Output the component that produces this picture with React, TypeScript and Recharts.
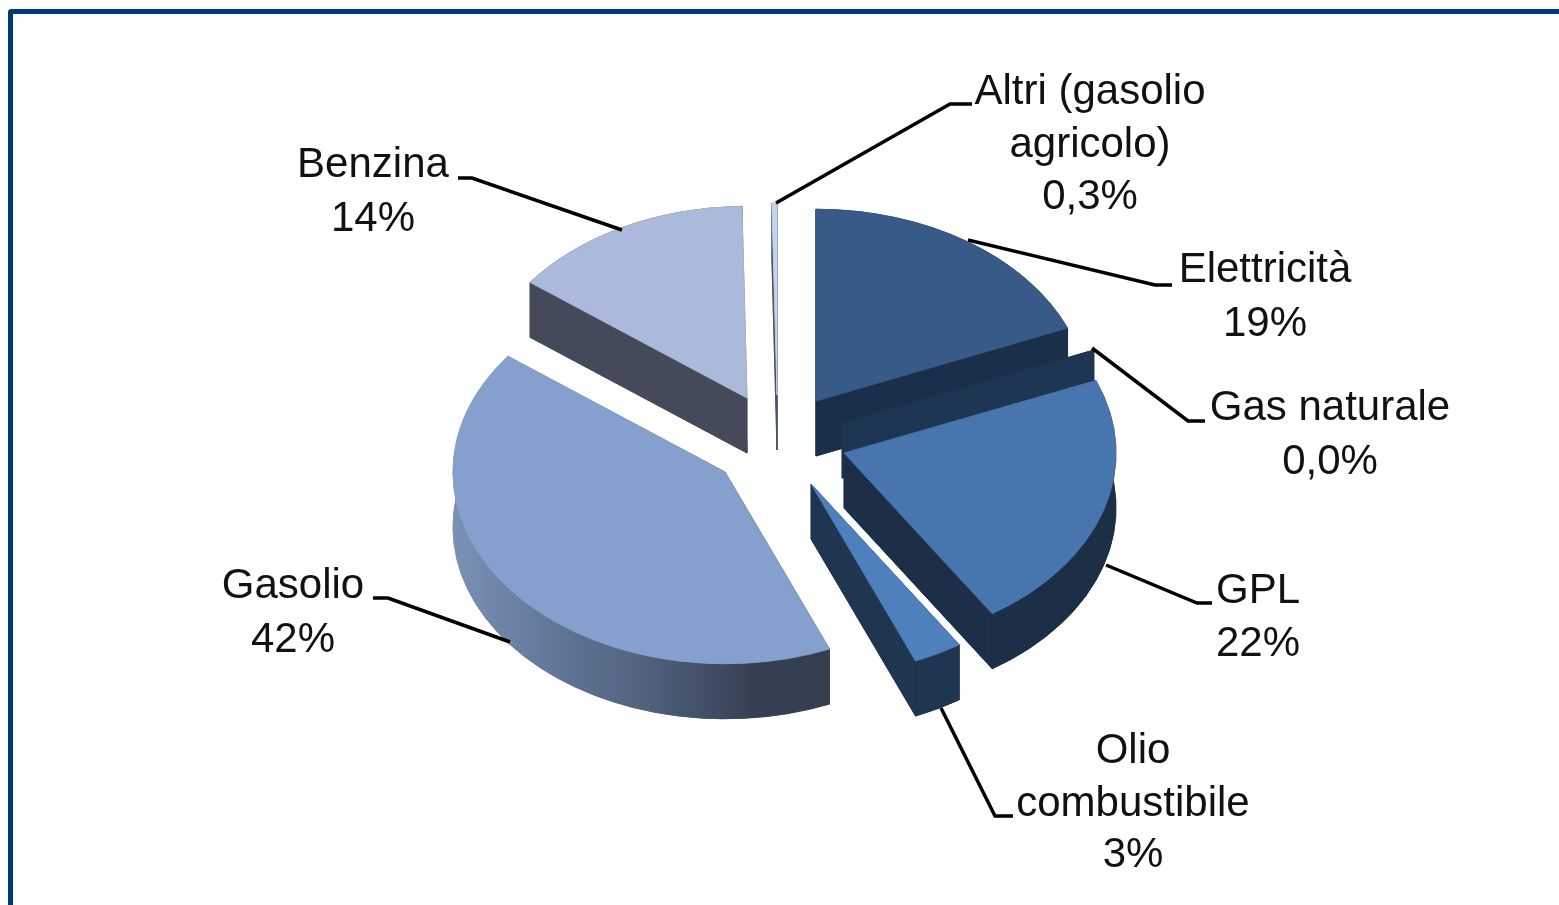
import React from "react";
import { PieChart, Pie } from "recharts";

// ---- chart content ----
const categories = ["Elettricità", "Gas naturale", "GPL", "Olio combustibile", "Gasolio", "Benzina", "Altri (gasolio agricolo)"];
const values = [18.8, 0.04, 22, 2.9, 41.6, 14.4, 0.3];
const labelLines = [
  ["Elettricità", "19%"],
  ["Gas naturale", "0,0%"],
  ["GPL", "22%"],
  ["Olio", "combustibile", "3%"],
  ["Gasolio", "42%"],
  ["Benzina", "14%"],
  ["Altri (gasolio", "agricolo)", "0,3%"],
];

// ---- styles and layout, separate from the values ----
const topColors = ["#375a87", "#1f3554", "#4875ae", "#4d80bd", "#85a0cc", "#abbadb", "#c6d3ec"];
const wallColors = ["#1c2f4a", "#1f3554", "#1c2f47", "#1f3550", "url(#gasolioWall)", "#444a5a", "#4a5060"];
// exploded displacement of every slice from the pie centre
const explode: [number, number][] = [[36, -34], [62, -12], [64, 18], [31, 49], [-55, 37], [-33, -37], [-3, -40]];
// text centre x, baselines, leader-line points
const labelLayout: { x: number; y: number[]; line: number[][] }[] = [
  { x: 1265, y: [282, 336], line: [[968, 240], [1155, 285], [1172, 285]] },
  { x: 1330, y: [420, 474], line: [[1092, 348], [1188, 421], [1205, 421]] },
  { x: 1258, y: [603, 656], line: [[1106, 565], [1197, 603], [1212, 603]] },
  { x: 1133, y: [763, 816, 867], line: [[941, 708], [995, 816], [1013, 816]] },
  { x: 293, y: [598, 652], line: [[510, 642], [388, 598], [373, 598]] },
  { x: 373, y: [177, 231], line: [[622, 230], [472, 178], [458, 178]] },
  { x: 1090, y: [104, 157, 209], line: [[776, 203], [950, 104], [972, 104]] },
];
const TILT = 0.705;
const DEPTH = 55;
const WIDTH = 1559;
const HEIGHT = 905;
const GRADIENT_SLICE = 4;

const data = categories.map((name, i) => ({ name, value: values[i] }));

function SliceShape(props: any) {
  const { cx, cy, outerRadius, startAngle, endAngle, index } = props;
  const i: number = index ?? data.findIndex((d) => d.name === props.name);
  const [dx, dy] = explode[i];
  const ax = cx + dx;
  const ay = cy + dy;
  const rx = outerRadius;
  const ry = outerRadius * TILT;
  const t0 = ((90 - startAngle) * Math.PI) / 180;
  const t1 = ((90 - endAngle) * Math.PI) / 180;
  const pt = (t: number) => [ax + rx * Math.sin(t), ay - ry * Math.cos(t)];
  const [x0, y0] = pt(t0);
  const [x1, y1] = pt(t1);
  const large = t1 - t0 > Math.PI ? 1 : 0;
  const wedge = (off: number) =>
    `M${ax},${ay + off}L${x0},${y0 + off}A${rx},${ry} 0 ${large} 1 ${x1},${y1 + off}Z`;
  const edge = (x: number, y: number) =>
    `M${ax},${ay}L${x},${y}L${x},${y + DEPTH}L${ax},${ay + DEPTH}Z`;
  const rim = `M${x0},${y0}A${rx},${ry} 0 ${large} 1 ${x1},${y1}L${x1},${y1 + DEPTH}A${rx},${ry} 0 ${large} 0 ${x0},${y0 + DEPTH}Z`;
  const wall = wallColors[i];
  return (
    <g>
      {i === GRADIENT_SLICE && (
        <defs>
          <linearGradient id="gasolioWall" gradientUnits="userSpaceOnUse" x1={ax - rx} x2={x0} y1={0} y2={0}>
            <stop offset="0" stopColor="#7b91b6" />
            <stop offset="0.3" stopColor="#5f7394" />
            <stop offset="0.5" stopColor="#52637e" />
            <stop offset="0.72" stopColor="#3d4960" />
            <stop offset="0.8" stopColor="#373f52" />
            <stop offset="1" stopColor="#353f50" />
          </linearGradient>
        </defs>
      )}
      <g fill={wall} stroke={wall} strokeWidth={0.7}>
        <path d={wedge(DEPTH)} />
        <path d={edge(x0, y0)} />
        <path d={edge(x1, y1)} />
        <path d={rim} />
      </g>
      <path d={wedge(0)} fill={topColors[i]} stroke={topColors[i]} strokeWidth={0.9} />
    </g>
  );
}

function SliceLabel(props: any) {
  const i: number = props.index;
  const layout = labelLayout[i];
  return (
    <g>
      <polyline
        points={layout.line.map((p) => p.join(",")).join(" ")}
        fill="none"
        stroke="#000"
        strokeWidth={3.5}
      />
      {labelLines[i].map((text, k) => (
        <text
          key={k}
          x={layout.x}
          y={layout.y[k]}
          textAnchor="middle"
          fontFamily="'Liberation Sans', Arial, sans-serif"
          fontSize={42}
          fill="#111"
        >
          {text}
        </text>
      ))}
    </g>
  );
}

export default function App() {
  return (
    <div style={{ position: "absolute", left: 0, top: 0, width: WIDTH, height: HEIGHT, overflow: "hidden", background: "#fff", filter: "blur(0.5px)" }}>
      <div
        style={{
          position: "absolute",
          left: 8,
          top: 9,
          right: 0,
          bottom: 0,
          borderLeft: "5px solid #003a78",
          borderTop: "5px solid #003a78",
          borderTopLeftRadius: 4,
        }}
      />
      <div style={{ position: "absolute", left: 0, top: 0 }}>
        <PieChart width={WIDTH} height={HEIGHT} margin={{ top: 0, right: 0, bottom: 0, left: 0 }}>
          <Pie
            data={data}
            dataKey="value"
            nameKey="name"
            cx={780}
            cy={435}
            innerRadius={0}
            outerRadius={272}
            startAngle={90}
            endAngle={-270}
            stroke="none"
            isAnimationActive={false}
            shape={SliceShape}
            label={SliceLabel}
            labelLine={false}
          />
        </PieChart>
      </div>
    </div>
  );
}
